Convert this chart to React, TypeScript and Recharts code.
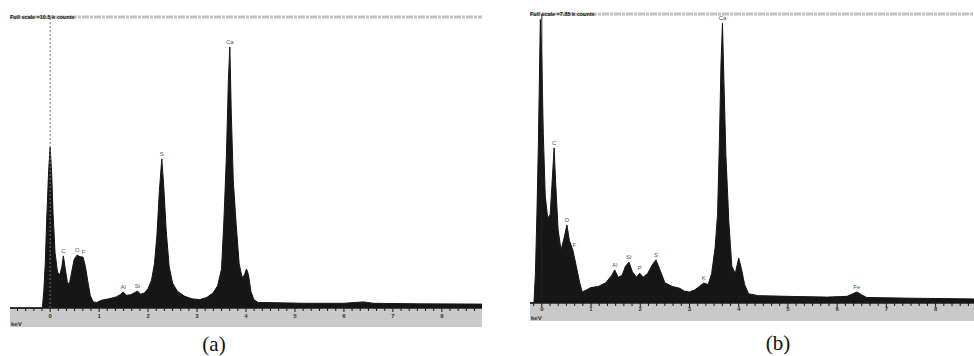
import React from 'react';
import {
  AreaChart,
  Area,
  XAxis,
  YAxis,
  ReferenceLine,
  ReferenceArea,
  ReferenceDot,
} from 'recharts';

// ---------- Spectrum (a) ----------
const energyA = [
  -0.82, -0.3, -0.16, -0.13, -0.1, -0.07, -0.03, 0.0, 0.03, 0.06, 0.1, 0.15, 0.2, 0.24, 0.27, 0.31, 0.35, 0.39,
  0.44, 0.49, 0.55, 0.61, 0.67, 0.72, 0.77, 0.82, 0.88, 0.95, 1.05, 1.2, 1.35, 1.43, 1.49, 1.56, 1.65, 1.73,
  1.78, 1.85, 1.93, 2.0, 2.07, 2.13, 2.18, 2.23, 2.28, 2.32, 2.37, 2.43, 2.5, 2.6, 2.75, 2.9, 3.05, 3.2, 3.33,
  3.42, 3.5, 3.55, 3.6, 3.64, 3.67, 3.7, 3.74, 3.8, 3.86, 3.92, 3.97, 4.01, 4.05, 4.1, 4.16, 4.25, 4.6, 5.2,
  6.0, 6.4, 6.6, 7.5, 8.82,
];
const countsA = [
  0, 0, 0, 0.6, 1.6, 3.2, 5.0, 5.81, 4.9, 3.4, 2.0, 1.3, 1.2, 1.5, 1.88, 1.4, 0.95, 0.83,
  1.3, 1.75, 1.91, 1.85, 1.84, 1.5, 0.95, 0.45, 0.22, 0.2, 0.28, 0.33, 0.4, 0.48, 0.58, 0.46, 0.48, 0.56,
  0.61, 0.5, 0.55, 0.7, 1.0, 1.6, 2.6, 4.2, 5.38, 4.4, 2.8, 1.5, 0.9, 0.6, 0.42, 0.33, 0.3, 0.38, 0.55,
  0.8, 1.4, 3.2, 5.5, 8.2, 9.42, 7.0, 4.6, 3.0, 1.6, 1.1, 1.2, 1.41, 1.2, 0.6, 0.3, 0.2, 0.19, 0.17,
  0.17, 0.22, 0.17, 0.15, 0.14,
];
const peakNamesA = ['C', 'O', 'F', 'Al', 'Si', 'S', 'Ca'];
const peakEnergyA = [0.27, 0.55, 0.68, 1.49, 1.78, 2.28, 3.67];
const peakCountsA = [1.88, 1.91, 1.84, 0.58, 0.61, 5.38, 9.42];
const fullScaleA = 10.5;
const fullScaleTextA = 'Full scale =10.5 k counts';

// ---------- Spectrum (b) ----------
const energyB = [
  -0.24, -0.16, -0.13, -0.1, -0.07, -0.05, -0.03, 0.0, 0.03, 0.07, 0.12, 0.17, 0.21, 0.25, 0.28, 0.33, 0.39,
  0.45, 0.51, 0.56, 0.63, 0.7, 0.77, 0.82, 0.9, 1.0, 1.15, 1.3, 1.42, 1.48, 1.55, 1.63, 1.7, 1.77, 1.84, 1.92,
  1.99, 2.06, 2.15, 2.25, 2.32, 2.4, 2.5, 2.65, 2.8, 2.9, 3.0, 3.1, 3.2, 3.29, 3.38, 3.45, 3.52, 3.57, 3.61,
  3.64, 3.67, 3.7, 3.74, 3.8, 3.86, 3.93, 4.0, 4.06, 4.12, 4.2, 4.4, 5.0, 5.8, 6.2, 6.3, 6.4, 6.5, 6.6, 7.5,
  8.78,
];
const countsB = [
  0, 0, 0.8, 2.4, 4.3, 6.0, 7.7, 6.6, 4.6, 2.9, 2.3, 2.4, 3.3, 4.21, 3.3, 2.0, 1.44,
  1.75, 2.12, 1.7, 1.44, 1.0, 0.55, 0.3, 0.35, 0.42, 0.45, 0.55, 0.75, 0.9, 0.7, 0.75, 1.0, 1.11, 0.85, 0.7,
  0.81, 0.7, 0.8, 1.05, 1.17, 0.9, 0.55, 0.45, 0.4, 0.32, 0.3, 0.35, 0.45, 0.54, 0.5, 0.8, 1.5, 2.4, 4.5,
  6.5, 7.6, 6.0, 4.0, 2.2, 1.0, 0.8, 1.22, 0.9, 0.5, 0.25, 0.2, 0.18, 0.16, 0.18, 0.24, 0.3, 0.22, 0.15, 0.13,
  0.11,
];
const peakNamesB = ['C', 'O', 'F', 'Al', 'Si', 'P', 'S', 'K', 'Ca', 'Fe'];
const peakEnergyB = [0.25, 0.51, 0.66, 1.48, 1.77, 1.99, 2.32, 3.29, 3.67, 6.4];
const peakCountsB = [4.21, 2.12, 1.44, 0.9, 1.11, 0.81, 1.17, 0.54, 7.6, 0.3];
const fullScaleB = 7.85;
const fullScaleTextB = 'Full scale =7.85 k counts';

// ---------- Axis ticks ----------
const majorTicks = [0, 1, 2, 3, 4, 5, 6, 7, 8];
const minorPerKeV = 6;

const buildTicks = (lo: number, hi: number) => {
  const out: number[] = [];
  const start = Math.ceil(lo * minorPerKeV);
  const end = Math.floor(hi * minorPerKeV);
  for (let i = start; i <= end; i++) out.push(i / minorPerKeV);
  return out;
};

type SpecProps = {
  energy: number[];
  counts: number[];
  names: string[];
  pe: number[];
  pc: number[];
  fullScale: number;
  fullText: string;
  xDomain: [number, number];
  width: number;
  height: number;
  margin: { top: number; right: number; bottom: number; left: number };
  bandPx: number;
  zeroPx: number; // pixels between zero and full scale
  labelPx: number;
  zeroLine: 'dashed' | 'solid';
};

const Spectrum = (p: SpecProps) => {
  const data = p.energy.map((e, i) => ({ e, c: p.counts[i] }));
  const perPx = p.fullScale / p.zeroPx;
  const bandK = p.bandPx * perPx;
  const ticks = buildTicks(p.xDomain[0], p.xDomain[1]);
  return (
    <AreaChart width={p.width} height={p.height} data={data} margin={p.margin}>
      <XAxis dataKey="e" type="number" domain={p.xDomain} allowDataOverflow hide height={0} />
      <YAxis hide type="number" domain={[-bandK, p.fullScale]} allowDataOverflow />
      <ReferenceArea
        x1={p.xDomain[0]}
        x2={p.xDomain[1]}
        y1={-bandK}
        y2={0}
        fill="#c9c9c9"
        fillOpacity={1}
        stroke="none"
        label={{ value: 'keV', position: 'insideBottomLeft', offset: 1, fontSize: 6, fontWeight: 'bold', fill: '#333' }}
      />
      <ReferenceLine
        y={p.fullScale}
        stroke="#c2c2c2"
        strokeWidth={3}
        strokeDasharray="7 1 3 1"
        label={{
          value: p.fullText,
          position: 'insideLeft',
          offset: 0,
          fontSize: 5.5,
          fontWeight: 'bold',
          fill: '#111',
        }}
      />
      <ReferenceLine
        segment={[
          { x: 0, y: 0 },
          { x: 0, y: p.fullScale },
        ]}
        stroke={p.zeroLine === 'dashed' ? '#777' : '#222'}
        strokeWidth={1}
        strokeDasharray={p.zeroLine === 'dashed' ? '2 2' : undefined}
      />
      <Area
        type="linear"
        dataKey="c"
        baseValue={0}
        stroke="#161616"
        strokeWidth={1}
        fill="#161616"
        fillOpacity={1}
        isAnimationActive={false}
      />
      <ReferenceLine y={0} stroke="#1a1a1a" strokeWidth={1.5} />
      {ticks.map((t) => {
        const major = majorTicks.some((m) => Math.abs(m - t) < 1e-6);
        return (
          <ReferenceLine
            key={'t' + t}
            segment={[
              { x: t, y: 0 },
              { x: t, y: -(major ? 4 : 3) * perPx },
            ]}
            stroke="#1a1a1a"
            strokeWidth={1}
          />
        );
      })}
      {majorTicks.map((m) => (
        <ReferenceDot
          key={'m' + m}
          x={m}
          y={-p.labelPx * perPx}
          r={0}
          stroke="none"
          fill="none"
          label={{ value: String(m), position: 'center', fontSize: 6, fontWeight: 'bold', fill: '#333' }}
        />
      ))}
      {p.names.map((n, i) => (
        <ReferenceDot
          key={n + i}
          x={p.pe[i]}
          y={p.pc[i]}
          r={0}
          stroke="none"
          fill="none"
          label={{ value: n, position: 'top', offset: 3, fontSize: 6, fill: '#555' }}
        />
      ))}
    </AreaChart>
  );
};

export default function App() {
  return (
    <div
      style={{
        position: 'absolute',
        left: 0,
        top: 0,
        width: 974,
        height: 356,
        background: '#fff',
        fontFamily: 'Liberation Sans, Arial, sans-serif',
        overflow: 'hidden',
      }}
    >
      <div style={{ position: 'absolute', left: 0, top: 0 }}>
        <Spectrum
          energy={energyA}
          counts={countsA}
          names={peakNamesA}
          pe={peakEnergyA}
          pc={peakCountsA}
          fullScale={fullScaleA}
          fullText={fullScaleTextA}
          xDomain={[-0.82, 8.82]}
          width={487}
          height={330}
          margin={{ top: 17, right: 5, bottom: 3, left: 10 }}
          bandPx={19}
          zeroPx={291}
          labelPx={8}
          zeroLine="dashed"
        />
      </div>
      <div style={{ position: 'absolute', left: 487, top: 0 }}>
        <Spectrum
          energy={energyB}
          counts={countsB}
          names={peakNamesB}
          pe={peakEnergyB}
          pc={peakCountsB}
          fullScale={fullScaleB}
          fullText={fullScaleTextB}
          xDomain={[-0.24, 8.78]}
          width={487}
          height={330}
          margin={{ top: 14, right: 0, bottom: 9, left: 43 }}
          bandPx={18}
          zeroPx={289}
          labelPx={6}
          zeroLine="solid"
        />
      </div>
      <div
        style={{
          position: 'absolute',
          left: 184,
          top: 332,
          width: 60,
          textAlign: 'center',
          fontFamily: 'Liberation Serif, Times New Roman, serif',
          fontSize: 21,
          lineHeight: '24px',
          color: '#111',
        }}
      >
        (a)
      </div>
      <div
        style={{
          position: 'absolute',
          left: 748,
          top: 331,
          width: 60,
          textAlign: 'center',
          fontFamily: 'Liberation Serif, Times New Roman, serif',
          fontSize: 21,
          lineHeight: '24px',
          color: '#111',
        }}
      >
        (b)
      </div>
    </div>
  );
}
